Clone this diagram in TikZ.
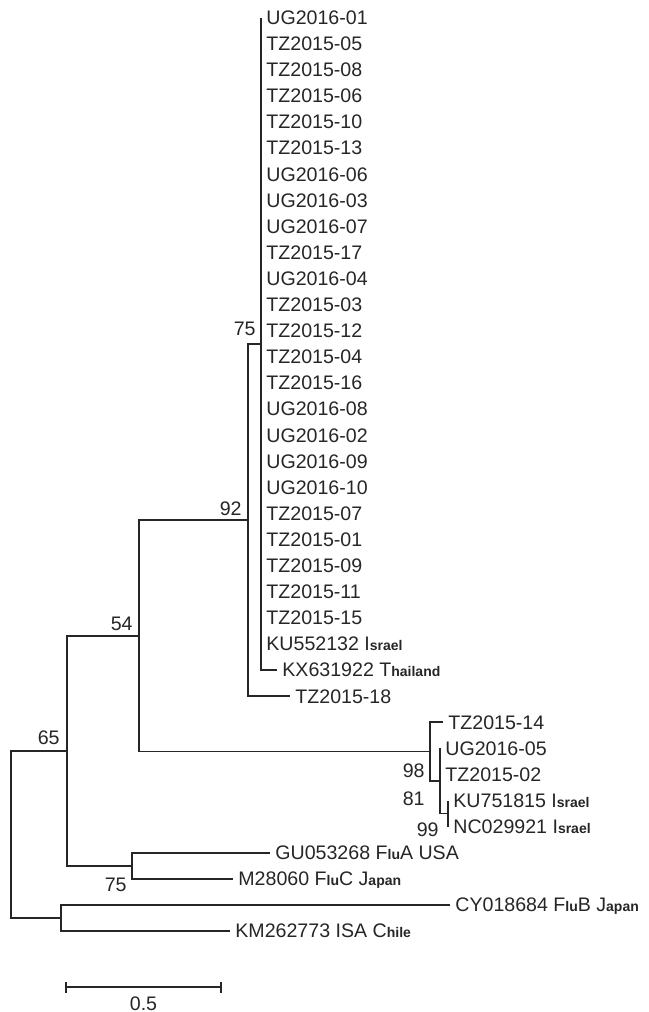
\documentclass[tikz,border=0pt]{standalone}
\usepackage{fontspec}
\setmainfont{Liberation Sans}
\usepackage{xcolor}
\usetikzlibrary{positioning,arrows.meta}
\definecolor{TreeInk}{HTML}{262626}
\newcommand{\sm}[1]{{\fontsize{7}{8}\selectfont\bfseries #1}}

\begin{document}
\begin{tikzpicture}[
  x=0.5pt,y=-0.5pt,
  leaf/.style={anchor=west,inner xsep=2.5pt,inner ysep=0pt,text height=6.9pt,
    text depth=0pt,text=TreeInk,font=\fontsize{9.8}{11}\selectfont},
  boot/.style={inner sep=0pt,text height=6.9pt,text depth=0pt,text=TreeInk,
    font=\fontsize{9.8}{11}\selectfont},
  line/.style={draw=TreeInk,line width=.8pt}
]
\useasboundingbox (0,0) rectangle (648,1012);
\coordinate (n75a) at (261,343.75);
\coordinate (n92) at (248,519.9);
\coordinate (n54) at (139,635.8);
\coordinate (n98) at (430,751.6);
\coordinate (n81) at (440,781);
\coordinate (n99) at (448,813.6);
\coordinate (n75b) at (132,865.8);
\coordinate (n65) at (67,750.8);
\coordinate (nfar) at (61,918);
\coordinate (root) at (11,834.4);
\foreach \lab [count=\i from 0] in {UG2016-01,TZ2015-05,TZ2015-08,TZ2015-06,
  TZ2015-10,TZ2015-13,UG2016-06,UG2016-03,UG2016-07,TZ2015-17,UG2016-04,
  TZ2015-03,TZ2015-12,TZ2015-04,TZ2015-16,UG2016-08,UG2016-02,UG2016-09,
  UG2016-10,TZ2015-07,TZ2015-01,TZ2015-09,TZ2015-11,TZ2015-15,
  KU552132 I\sm{srael}}{
  \node[leaf] (t\i) at (261,{17.5+26.1*\i}) {\lab};
  \draw[line] (n75a) |- (t\i.west);
}
\node[leaf] (kx) at (277,670) {KX631922 T\sm{hailand}};
\node[leaf] (tz18) at (290,696.1) {TZ2015-18};
\node[leaf] (tz14) at (443,722.2) {TZ2015-14};
\node[leaf] (ug05) at (440,748.3) {UG2016-05};
\node[leaf] (tz02) at (440,774.4) {TZ2015-02};
\node[leaf] (ku75) at (448,800.5) {KU751815 I\sm{srael}};
\node[leaf] (nc02) at (448,826.6) {NC029921 I\sm{srael}};
\node[leaf] (gu05) at (270,852.7) {GU053268 F\sm{lu}A USA};
\node[leaf] (m28) at (233,878.8) {M28060 F\sm{lu}C J\sm{apan}};
\node[leaf] (cy01) at (450,904.9) {CY018684 F\sm{lu}B J\sm{apan}};
\node[leaf] (km26) at (230,931) {KM262773 ISA C\sm{hile}};
\draw[line] (n75a) |- (kx.west);
\draw[line] (n92) |- (n75a);
\draw[line] (n92) |- (tz18.west);
\draw[line] (n54) |- (n92);
\draw[line] (n54) |- (n98);
\draw[line] (n98) |- (tz14.west);
\draw[line] (n98) |- (n81);
\draw[line] (n81) |- (ug05.west);
\draw[line] (n81) |- (tz02.west);
\draw[line] (n81) |- (n99);
\draw[line] (n99) |- (ku75.west);
\draw[line] (n99) |- (nc02.west);
\draw[line] (n65) |- (n54);
\draw[line] (n65) |- (n75b);
\draw[line] (n75b) |- (gu05.west);
\draw[line] (n75b) |- (m28.west);
\draw[line] (root) |- (n65);
\draw[line] (root) |- (nfar);
\draw[line] (nfar) |- (cy01.west);
\draw[line] (nfar) |- (km26.west);
\node[boot,above left=4pt and 2.5pt of n75a] (b75a) {75};
\node[boot,above left=2pt and 3pt of n92] (b92) {92};
\node[boot,above left=2.5pt and 3pt of n54] (b54) {54};
\node[boot,above left=3pt and 3.5pt of n65] (b65) {65};
\node[boot,below left=5.5pt and 2.5pt of n75b] (b75b) {75};
\node[boot,below left=6pt and 2.5pt of n98] (b98) {98};
\node[boot,below left=5pt and 7.5pt of n81] (b81) {81};
\node[boot,below left=4.5pt and 4.5pt of n99] (b99) {99};
\coordinate (sbl) at (65,987);
\coordinate (sbr) at (222,987);
\draw[line,{Bar[width=5.5pt]}-{Bar[width=5.5pt]}] (sbl) -- node[boot,below=4.5pt] (scale) {0.5} (sbr);
\end{tikzpicture}
\end{document}
